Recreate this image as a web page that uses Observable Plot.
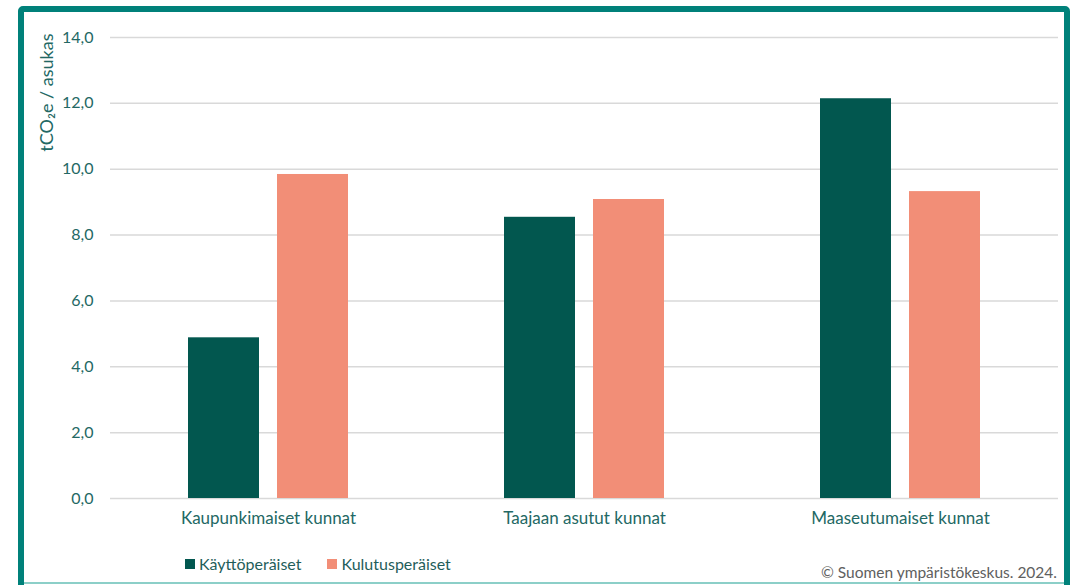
<!DOCTYPE html>
<html>
<head>
<meta charset="utf-8">
<script src="https://cdn.jsdelivr.net/npm/d3@7"></script>
<script src="https://cdn.jsdelivr.net/npm/@observablehq/plot@0.6"></script>
<style>
  html, body { margin: 0; padding: 0; background: #fff; }
  #wrap { position: relative; width: 1073px; height: 585px; overflow: hidden; font-family: Lato, "Open Sans", sans-serif; }
  #frame { position: absolute; left: 18px; top: 6px; width: 1040px; height: 590px; border: 6px solid #00817A; border-radius: 5px; box-sizing: content-box; }
  #bottomline { position: absolute; left: 24px; top: 582px; width: 1040px; height: 2px; background: #8ccfc8; }
  #chart { position: absolute; left: 0; top: 0; }
  #legend { position: absolute; left: 185px; top: 554px; font-size: 16px; color: #1f5e5a; display: flex; gap: 0; }
  #legend .item { display: flex; align-items: center; margin-right: 26px; }
  #legend .sw { width: 10px; height: 10px; margin-right: 4px; }
  #caption { position: absolute; right: 16px; top: 563px; font-size: 15.5px; color: #606060; }
</style>
</head>
<body>
<div id="wrap">
  <div id="chart"></div>
  <div id="frame"></div>
  <div id="bottomline"></div>
  <div id="legend"></div>
  <div id="caption">© Suomen ympäristökeskus. 2024.</div>
</div>
<script>
const categories = ["Kaupunkimaiset kunnat", "Taajaan asutut kunnat", "Maaseutumaiset kunnat"];
const series = ["Käyttöperäiset", "Kulutusperäiset"];
const kayttoValues = [4.88, 8.54, 12.14];
const kulutusValues = [9.84, 9.08, 9.32];
const seriesColors = ["#02574F", "#F28E77"];
const yTicks = [0, 2, 4, 6, 8, 10, 12, 14];
const yLabel = "tCO₂e / asukas";

const data = [];
categories.forEach((c, i) => {
  data.push({category: c, series: series[0], value: kayttoValues[i]});
  data.push({category: c, series: series[1], value: kulutusValues[i]});
});

const fmt = d => d3.format(".1f")(d).replace(".", ",");

const plot = Plot.plot({
  width: 1073,
  height: 540,
  marginLeft: 110,
  marginRight: 15,
  marginTop: 37,
  marginBottom: 42,
  style: {fontFamily: "Lato, 'Open Sans', sans-serif", background: "transparent"},
  fx: {domain: categories, padding: 0, label: null},
  x: {domain: series, paddingInner: 0.2, paddingOuter: 0.856, axis: null},
  y: {domain: [0, 14], label: null},
  color: {domain: series, range: seriesColors},
  marks: [
    Plot.ruleY(yTicks, {stroke: "#d9d9d9", strokeWidth: 1.5}),
    Plot.barY(data, {fx: "category", x: "series", y: "value", fill: "series"}),
    Plot.axisY({ticks: yTicks, tickFormat: fmt, tickSize: 0, tickPadding: 17, fontSize: 16, fill: "#236864", label: null}),
    Plot.axisFx({anchor: "bottom", tickSize: 0, tickPadding: 13, fontSize: 17, fill: "#236864", label: null}),
    Plot.text([yLabel], {frameAnchor: "top-left", rotate: -90, textAnchor: "end", dx: -70, dy: -4, fontSize: 18, fill: "#236864", facet: "super"})
  ]
});
document.getElementById("chart").appendChild(plot);

const legend = document.getElementById("legend");
series.forEach((s, i) => {
  const it = document.createElement("div");
  it.className = "item";
  const sw = document.createElement("div");
  sw.className = "sw";
  sw.style.background = seriesColors[i];
  const t = document.createElement("span");
  t.textContent = s;
  it.appendChild(sw);
  it.appendChild(t);
  legend.appendChild(it);
});
</script>
</body>
</html>
